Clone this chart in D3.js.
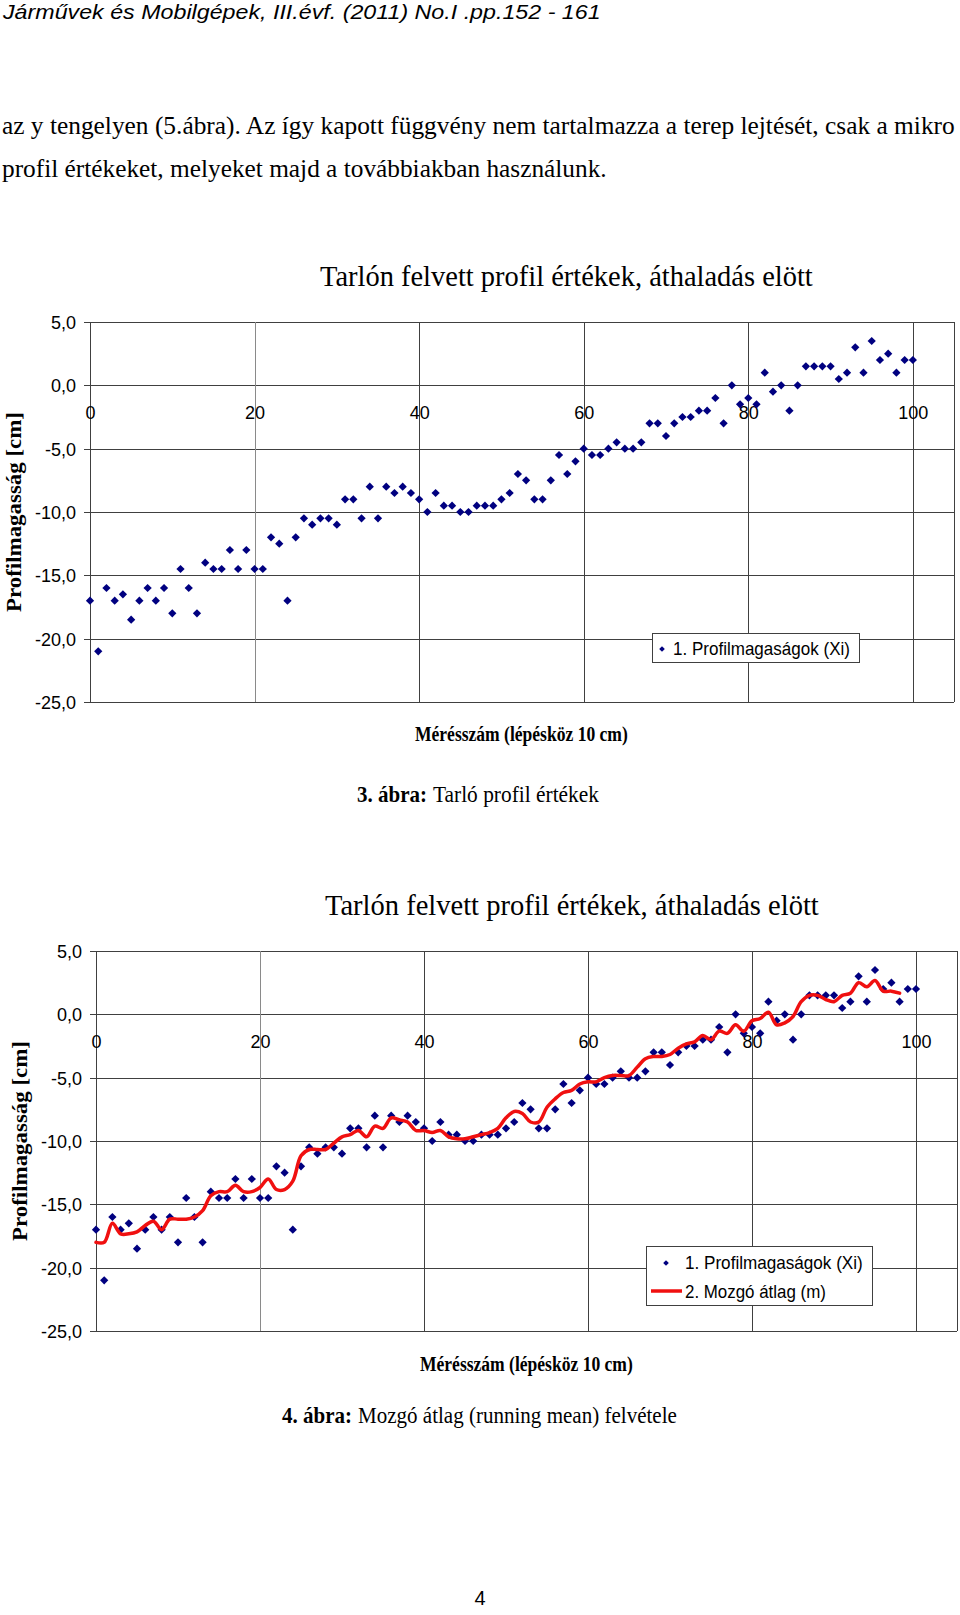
<!DOCTYPE html>
<html><head><meta charset="utf-8">
<script src="https://cdn.jsdelivr.net/npm/d3@7"></script>
<style>html,body{margin:0;padding:0;background:#fff} svg{display:block}</style>
</head><body>
<svg id="page" width="960" height="1615"></svg>
<script>
// ---------------- DATA ----------------
const measurementNo = d3.range(0, 101); // Mérésszám 0..100
const profileHeights = [ // 1. Profilmagaságok (Xi) [cm]
  -17, -21, -16, -17, -16.5, -18.5, -17, -16, -17, -16,
  -18, -14.5, -16, -18, -14, -14.5, -14.5, -13, -14.5, -13,
  -14.5, -14.5, -12, -12.5, -17, -12, -10.5, -11, -10.5, -10.5,
  -11, -9, -9, -10.5, -8, -10.5, -8, -8.5, -8, -8.5,
  -9, -10, -8.5, -9.5, -9.5, -10, -10, -9.5, -9.5, -9.5,
  -9, -8.5, -7, -7.5, -9, -9, -7.5, -5.5, -7, -6,
  -5, -5.5, -5.5, -5, -4.5, -5, -5, -4.5, -3, -3,
  -4, -3, -2.5, -2.5, -2, -2, -1, -3, 0, -1.5,
  -1, -1.5, 1, -0.5, 0, -2, 0, 1.5, 1.5, 1.5,
  1.5, 0.5, 1, 3, 1, 3.5, 2, 2.5, 1, 2,
  2
];
const movingAverage = [ // 2. Mozgó átlag (m) [cm] (x = 0..98)
  -18, -18, -16.5, -17.33, -17.33, -17.17, -16.67, -16.33, -17, -16.17,
  -16.17, -16.17, -16, -15.5, -14.33, -14, -14, -13.5, -14, -14,
  -13.67, -13, -13.83, -13.83, -13.17, -11.17, -10.67, -10.67, -10.67, -10.17,
  -9.67, -9.5, -9.17, -9.67, -8.83, -9, -8.17, -8.33, -8.5, -9.17,
  -9.17, -9.33, -9.17, -9.67, -9.83, -9.83, -9.67, -9.5, -9.33, -9,
  -8.17, -7.67, -7.83, -8.5, -8.5, -7.33, -6.67, -6.17, -6, -5.5,
  -5.33, -5.33, -5, -4.83, -4.83, -4.83, -4.17, -3.5, -3.33, -3.33,
  -3.17, -2.67, -2.33, -2.17, -1.67, -2, -1.33, -1.5, -0.83, -1.33,
  -0.5, -0.33, 0.17, -0.83, -0.67, -0.17, 1, 1.5, 1.5, 1.17,
  1, 1.5, 1.67, 2.5, 2.17, 2.67, 1.83, 1.83, 1.67
];
const xTicks = [0, 20, 40, 60, 80, 100];
const yTicks = [5, 0, -5, -10, -15, -20, -25];
const xDomain = [0, 105];
const yDomain = [-25, 5];
const chartTitle = "Tarlón felvett profil értékek, áthaladás elött";
const yTitle = "Profilmagasság [cm]";
const xTitle = "Mérésszám (lépésköz 10 cm)";
const legendLabels = ["1. Profilmagaságok (Xi)", "2. Mozgó átlag (m)"];

// ---------------- DRAWING ----------------
const svg = d3.select("#page");
const SERIF = "'Liberation Serif','Times New Roman',serif";
const SANS = "'Liberation Sans',Arial,sans-serif";
const GRID = "#404040";
const fmt = v => d3.format(".1f")(v).replace(".", ",").replace("−", "-");

// text squeezed horizontally to a given width with a scale transform
function fitText(parent, x, y, s, size, family, len, opts = {}) {
  const t = parent.append("text").attr("x", 0).attr("y", 0)
    .attr("font-size", size).attr("font-family", family).attr("fill", "#000").text(s);
  if (opts.weight) t.attr("font-weight", opts.weight);
  if (opts.style) t.attr("font-style", opts.style);
  if (opts.anchor) t.attr("text-anchor", opts.anchor);
  let sx = 1;
  if (len) sx = len / t.node().getComputedTextLength();
  t.attr("transform", `translate(${x},${y}) scale(${sx},1)`);
  return t;
}

// page texts
fitText(svg, 3, 19, "Járművek és Mobilgépek, III.évf. (2011) No.I .pp.152 - 161", 20.5, SANS, 598, {style: "italic"});
fitText(svg, 2, 134, "az y tengelyen (5.ábra). Az így kapott függvény nem tartalmazza a terep lejtését, csak a mikro", 26, SERIF, 953);
fitText(svg, 2, 177, "profil értékeket, melyeket majd a továbbiakban használunk.", 26, SERIF, 605);

function drawChart(cfg) {
  const g = svg.append("g");
  const x = d3.scaleLinear().domain(xDomain).range([cfg.left, cfg.right]);
  const y = d3.scaleLinear().domain(yDomain).range([cfg.bottom, cfg.top]);

  // title
  fitText(g, cfg.titleX, cfg.titleY, chartTitle, 30, SERIF, cfg.titleLen);

  // horizontal gridlines + y-axis ticks
  g.append("g").selectAll("line").data(yTicks).join("line")
    .attr("x1", cfg.left - 6).attr("x2", cfg.right)
    .attr("y1", d => Math.round(y(d)) + 0.5).attr("y2", d => Math.round(y(d)) + 0.5)
    .attr("stroke", GRID).attr("stroke-width", 1);

  // vertical gridlines
  g.append("g").selectAll("line").data(xTicks).join("line")
    .attr("x1", d => Math.round(x(d)) + 0.5).attr("x2", d => Math.round(x(d)) + 0.5)
    .attr("y1", cfg.top).attr("y2", cfg.bottom)
    .attr("stroke", d => d === 20 ? "#8a8a8a" : GRID).attr("stroke-width", 1);
  // right border
  g.append("line").attr("x1", Math.round(x(xDomain[1])) + 0.5).attr("x2", Math.round(x(xDomain[1])) + 0.5)
    .attr("y1", cfg.top).attr("y2", cfg.bottom).attr("stroke", GRID);

  // y axis labels
  const ya = d3.axisLeft(y).tickValues(yTicks).tickFormat(fmt).tickSize(6).tickPadding(8);
  const yg = g.append("g").attr("transform", `translate(${cfg.left},0)`).call(ya);
  yg.select(".domain").remove();
  yg.selectAll(".tick line").remove();
  yg.selectAll("text").attr("font-family", SANS).attr("font-size", 18).attr("fill", "#000").attr("dy", "0.36em");

  // x axis labels crossing at y=0
  const xa = d3.axisBottom(x).tickValues(xTicks).tickFormat(d3.format("d")).tickSize(0).tickPadding(21);
  const xg = g.append("g").attr("transform", `translate(0,${y(0)})`).call(xa);
  xg.select(".domain").remove();
  xg.selectAll("text").attr("font-family", SANS).attr("font-size", 18).attr("fill", "#000");

  // axis titles
  g.append("text").attr("transform", `translate(${cfg.yTitleX},${(cfg.top + cfg.bottom) / 2}) rotate(-90)`)
    .attr("text-anchor", "middle").attr("font-family", SERIF).attr("font-weight", "bold")
    .attr("font-size", 22).attr("textLength", 200).attr("lengthAdjust", "spacingAndGlyphs").text(yTitle);
  fitText(g, cfg.xTitleX, cfg.xTitleY, xTitle, 20, SERIF, 213, {weight: "bold"});

  // points
  const diamond = d3.symbol().type(d3.symbolSquare).size(34);
  g.append("g").selectAll("path").data(profileHeights).join("path")
    .attr("d", diamond)
    .attr("transform", (d, i) => `translate(${x(measurementNo[i])},${y(d)}) rotate(45)`)
    .attr("fill", "#000080");

  // moving average
  if (cfg.withMean) {
    const line = d3.line().x((d, i) => x(measurementNo[i])).y(d => y(d)).curve(d3.curveCatmullRom.alpha(0.5));
    g.append("path").datum(movingAverage).attr("d", line)
      .attr("fill", "none").attr("stroke", "#f01010").attr("stroke-width", 3.5)
      .attr("stroke-linejoin", "round").attr("stroke-linecap", "round");
  }

  // legend
  const L = cfg.legend;
  g.append("rect").attr("x", L.x + 0.5).attr("y", L.y + 0.5).attr("width", L.w).attr("height", L.h)
    .attr("fill", "#fff").attr("stroke", GRID).attr("stroke-width", 1);
  g.append("path").attr("d", d3.symbol().type(d3.symbolSquare).size(16))
    .attr("transform", `translate(${L.dx},${L.dy}) rotate(45)`).attr("fill", "#000080");
  fitText(g, L.tx, L.ty1, legendLabels[0], 18, SANS, L.len1);
  if (cfg.withMean) {
    g.append("line").attr("x1", L.lx1).attr("x2", L.lx2).attr("y1", L.ly).attr("y2", L.ly)
      .attr("stroke", "#f01010").attr("stroke-width", 3.5);
    fitText(g, L.tx, L.ty2, legendLabels[1], 18, SANS, L.len2);
  }
}

drawChart({
  left: 90, right: 954, top: 322, bottom: 702,
  titleX: 320, titleY: 286, titleLen: 493,
  yTitleX: 21, xTitleX: 415, xTitleY: 741,
  withMean: false,
  legend: {x: 652, y: 633, w: 207, h: 29, dx: 662, dy: 649, tx: 673, ty1: 655, len1: 177}
});
fitText(svg, 357, 802, "3. ábra:", 23, SERIF, 70, {weight: "bold"});
fitText(svg, 433, 802, "Tarló profil értékek", 23, SERIF, 166);

drawChart({
  left: 96, right: 957, top: 951, bottom: 1331,
  titleX: 325, titleY: 915, titleLen: 494,
  yTitleX: 27, xTitleX: 420, xTitleY: 1371,
  withMean: true,
  legend: {x: 646, y: 1246, w: 226, h: 59, dx: 666, dy: 1263, tx: 685, ty1: 1269, len1: 178,
           lx1: 651, lx2: 682, ly: 1291, ty2: 1298, len2: 141}
});
fitText(svg, 282, 1423, "4. ábra:", 23, SERIF, 70, {weight: "bold"});
fitText(svg, 358, 1423, "Mozgó átlag (running mean) felvétele", 23, SERIF, 319);

fitText(svg, 480, 1605, "4", 20, SANS, null, {anchor: "middle"});
</script>
</body></html>
